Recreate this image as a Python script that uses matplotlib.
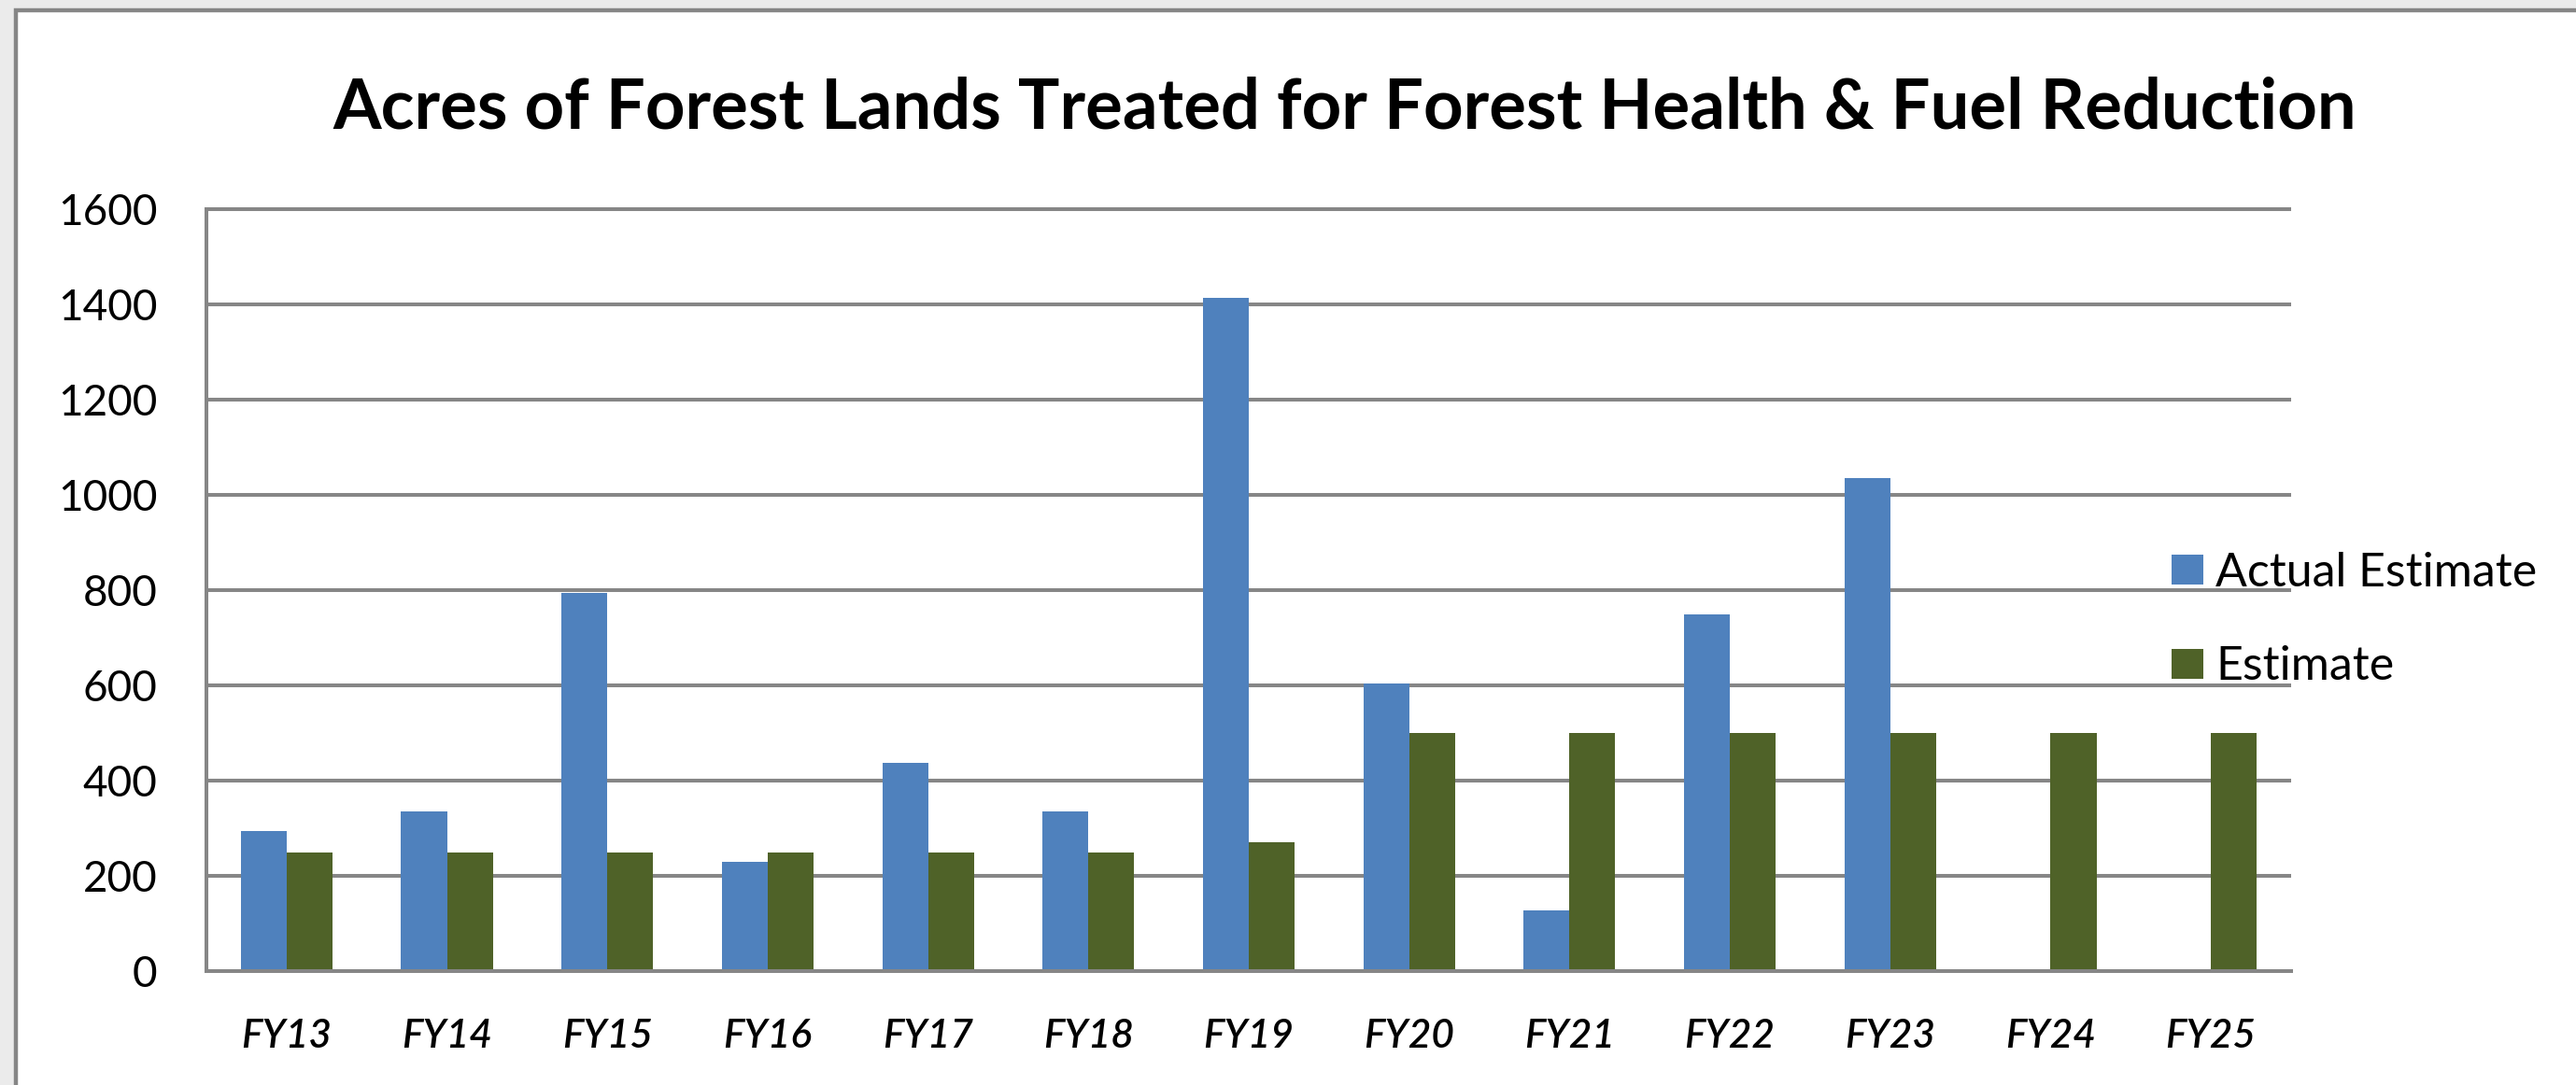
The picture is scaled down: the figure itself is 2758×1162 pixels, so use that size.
import numpy as np
import matplotlib
matplotlib.use('Agg')
import matplotlib.pyplot as plt
from matplotlib.patches import Rectangle

# values
years = ['FY13', 'FY14', 'FY15', 'FY16', 'FY17', 'FY18', 'FY19',
         'FY20', 'FY21', 'FY22', 'FY23', 'FY24', 'FY25']
actual = [295, 336, 795, 229, 437, 336, 1413, 603, 128, 750, 1036, np.nan, np.nan]
estimate = [250, 250, 250, 250, 250, 250, 270, 500, 500, 500, 500, 500, 500]
yticks = [0, 200, 400, 600, 800, 1000, 1200, 1400, 1600]
title = 'Acres of Forest Lands Treated for Forest Health & Fuel Reduction'

W, H = 2758, 1162
grey = '#868686'
plt.rcParams['font.family'] = ['Lato', 'DejaVu Sans']

fig = plt.figure(figsize=(W / 100, H / 100), dpi=100, facecolor='#ebebeb')

# chart frame (runs off the right and bottom of the image)
fig.add_artist(Rectangle((16.5 / W, -0.1), 1.2, 1 - 11.3 / H + 0.1,
                         transform=fig.transFigure, facecolor='white',
                         edgecolor=grey, lw=3.2, zorder=-1))

ax = fig.add_axes([221 / W, 1 - 1040 / H, (2453 - 221) / W, (1040 - 224) / H])
ax.patch.set_visible(False)

x = np.arange(len(years))
w = 1 / 3.5  # excel gap width 150%
ax.bar(x - w / 2, actual, w, color='#4F81BD', label='Actual Estimate', zorder=2)
ax.bar(x + w / 2, estimate, w, color='#4F6228', label='Estimate', zorder=2)

ax.set_xlim(-0.5, len(years) - 0.5)
ax.set_ylim(0, 1600)
ax.hlines(yticks[1:], -0.5, len(years) - 0.5, color=grey, lw=2.9,
          zorder=1, clip_on=False)

for s in ['top', 'right']:
    ax.spines[s].set_visible(False)
for s in ['left', 'bottom']:
    ax.spines[s].set_color(grey)
    ax.spines[s].set_linewidth(2.9)

ax.set_yticks(yticks)
ax.set_xticks(x)
ax.set_xticklabels(years, fontsize=30.5, fontstyle='italic', fontweight='semibold')
ax.tick_params(axis='y', length=0, pad=38, labelsize=33, labelcolor='black')
ax.tick_params(axis='x', length=0, pad=37, labelcolor='black')

fig.text(1440 / W, 1 - 137 / H, title, ha='center', va='baseline',
         fontsize=53.5, fontweight='bold')

fig.legend(loc='center left', bbox_to_anchor=(2325 / W, 1 - 664 / H),
           frameon=False, fontsize=36, handlelength=0.68, handleheight=0.6,
           handletextpad=0.26, labelspacing=1.1, borderpad=0,
           borderaxespad=0)

fig.savefig('out.png', dpi=100, facecolor=fig.get_facecolor())
